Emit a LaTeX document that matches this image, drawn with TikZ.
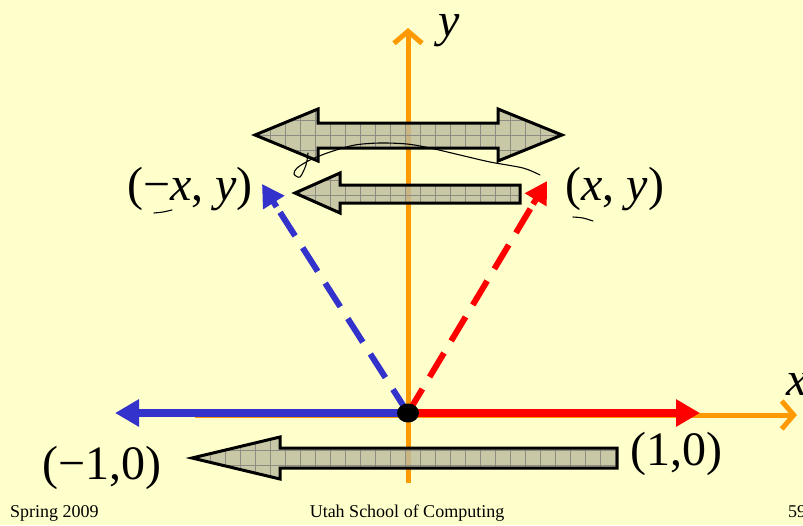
\documentclass[tikz,border=0pt]{standalone}
\usepackage{fontspec}
\setmainfont{Liberation Serif}
\usetikzlibrary{arrows.meta,calc}
\definecolor{paper}{RGB}{255,255,204}
\definecolor{axisorange}{RGB}{255,153,0}
\definecolor{vecblue}{RGB}{51,51,204}
\definecolor{vecred}{RGB}{255,0,0}
\definecolor{khaki}{RGB}{188,188,158}
\definecolor{gridgray}{RGB}{140,140,130}
\tikzset{
  axis/.style={-{Straight Barb[length=12pt,width=28pt]},line width=5pt,draw=axisorange},
  vec/.style={-{Triangle[length=24pt,width=26pt]},line width=8pt},
  dvec/.style={line width=6pt,dash pattern=on 28pt off 14pt},
  dtip/.style={-{Triangle[length=22pt,width=24pt]},line width=6pt},
  blockarrow/.style={draw=black,line width=3pt,fill=khaki,fill opacity=0.82,
    path picture={\draw[gridgray,line width=0.6pt]
      (path picture bounding box.south west) grid[step=15pt] (path picture bounding box.north east);}},
  scribble/.style={draw=black,line width=1.1pt,line cap=round,line join=round},
  lbl/.style={font=\fontsize{48}{56}\selectfont,inner sep=0pt},
  foot/.style={font=\fontsize{18}{20}\selectfont,inner sep=0pt}
}
\begin{document}
\begin{tikzpicture}[x=1pt,y=-1pt]
  \fill[paper] (0,0) rectangle (803,525);
  \useasboundingbox (0,0) rectangle (803,525);
  \coordinate (O) at (408,413);
  \coordinate (ytop) at (408,28);  \coordinate (ybot) at (408,483);
  \coordinate (xend) at (797,415); \coordinate (xbeg) at (195,415);
  \coordinate (bluetip) at (115,413); \coordinate (redtip) at (700,413);
  \coordinate (nxytip) at (262,184);  \coordinate (pxytip) at (547,181);
  % axes
  \draw[axis] (ybot) -- (ytop);
  \draw[axis] (xbeg) -- (xend);
  % block arrows
  \draw[blockarrow] (255,135) -- (318,109) -- (318,123) -- (498,123) -- (498,109) -- (562,135)
    -- (498,161) -- (498,148) -- (318,148) -- (318,161) -- cycle;
  \draw[blockarrow] (295,193) -- (340,173) -- (340,185) -- (520,185) -- (520,203) -- (340,203)
    -- (340,213) -- cycle;
  \draw[blockarrow] (192,458) -- (280,437) -- (280,448) -- (617,448) -- (617,468) -- (280,468)
    -- (280,479) -- cycle;
  % vectors
  \draw[vec,vecblue] (O) -- (bluetip);
  \draw[vec,vecred] (O) -- (redtip);
  \draw[dvec,vecblue] (O) -- ($(O)!0.88!(nxytip)$);
  \draw[dtip,vecblue] ($(O)!0.9!(nxytip)$) -- (nxytip);
  \draw[dvec,vecred] (O) -- ($(O)!0.88!(pxytip)$);
  \draw[dtip,vecred] ($(O)!0.9!(pxytip)$) -- (pxytip);
  \fill[black] (O) ellipse (11pt and 9.5pt);
  % hand marks
  \draw[scribble] plot[smooth] coordinates {(540,175) (523,168) (490,162) (460,155) (430,148)
    (407,144) (380,143) (355,145) (330,152) (310,160) (297,168) (294,174) (300,177) (306,165) (308,153)};
  \draw[scribble] plot[smooth] coordinates {(154,213) (163,212) (172,210)};
  \draw[scribble] plot[smooth] coordinates {(573,217) (583,218) (593,221)};
  % labels
  \node[lbl,anchor=base] (nxy) at (190,200) {(−\textit{x}, \textit{y})};
  \node[lbl,anchor=base] (pxy) at (615,200) {(\textit{x}, \textit{y})};
  \node[lbl,anchor=base] (none) at (102,479) {(−1,0)};
  \node[lbl,anchor=base] (pone) at (676,465) {(1,0)};
  \node[lbl,anchor=base] (ylab) at (449,36) {\textit{y}};
  \node[lbl,anchor=base west] (xlab) at (786,395) {\textit{x}};
  \node[foot,anchor=base west] (term) at (10,517) {Spring 2009};
  \node[foot,anchor=base] (school) at (407,517) {Utah School of Computing};
  \node[foot,anchor=base west] (page) at (788,517) {59};
\end{tikzpicture}
\end{document}
